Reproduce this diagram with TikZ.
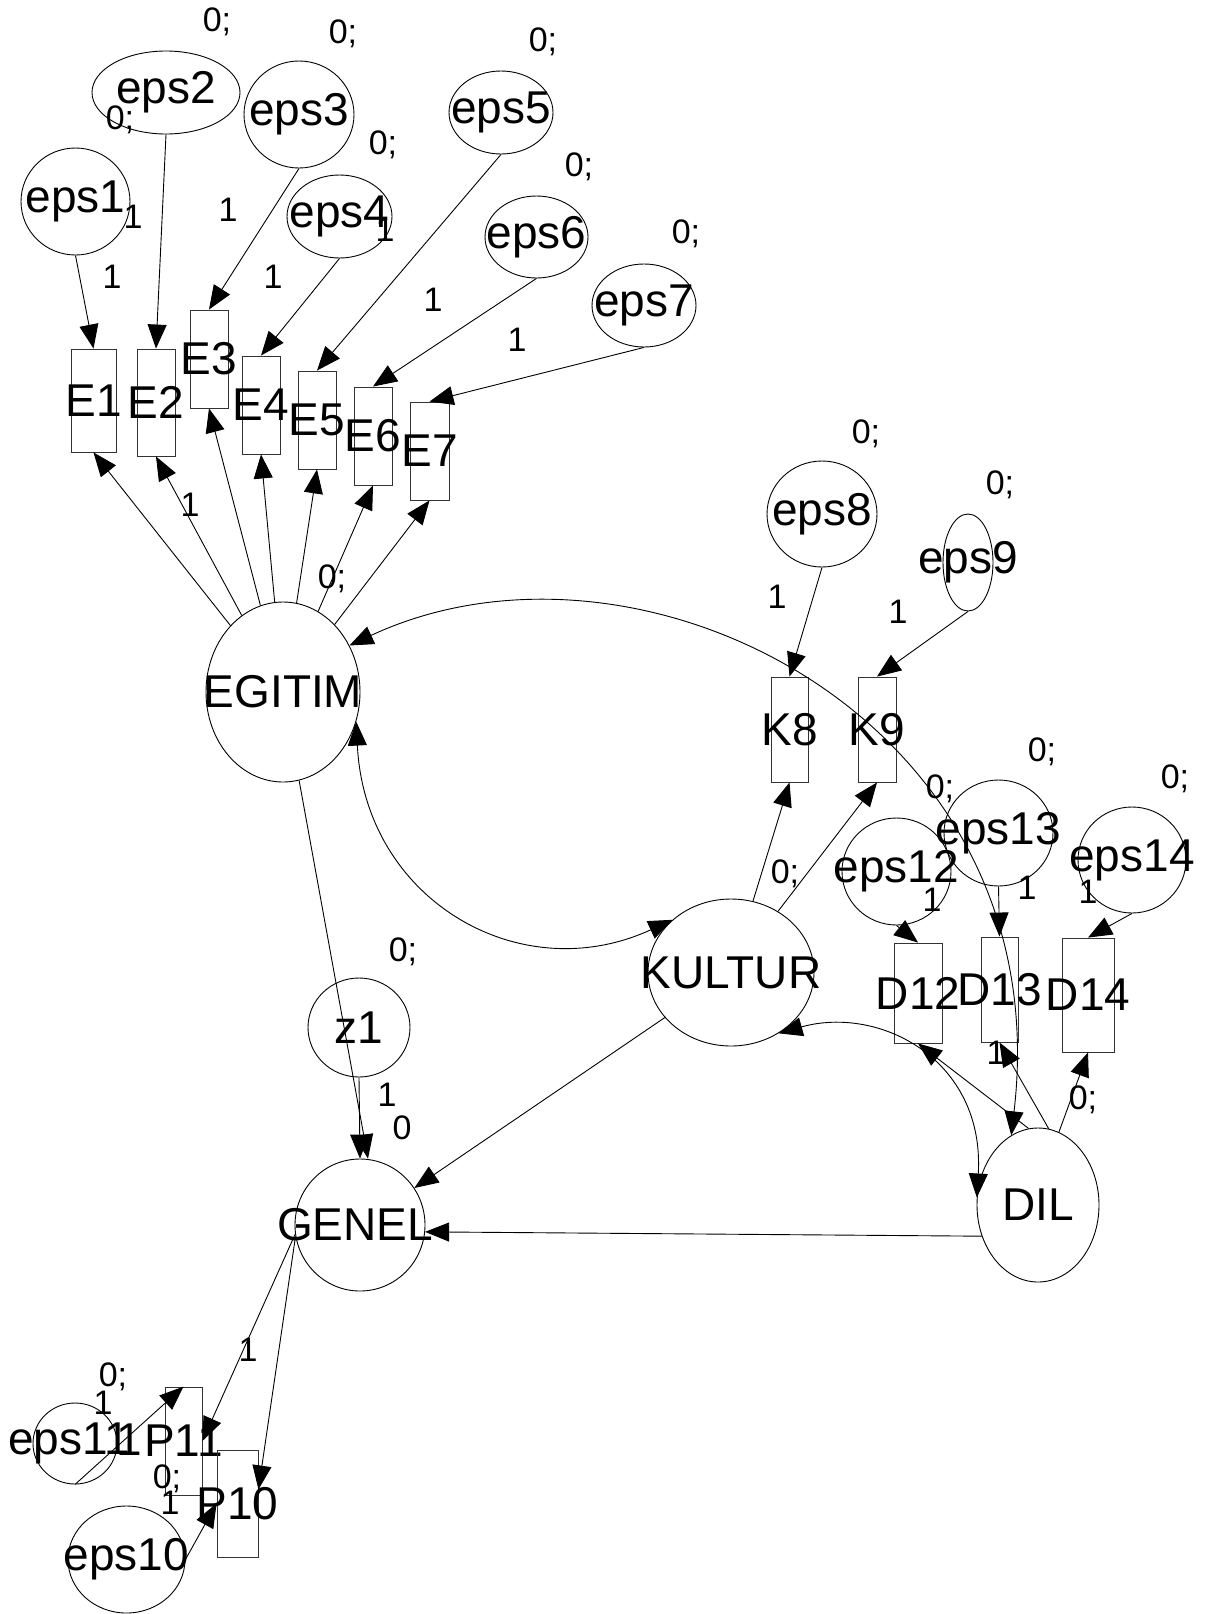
\documentclass[tikz,border=0pt]{standalone}
\usepackage{fontspec}
\setmainfont{Liberation Sans}
\usetikzlibrary{shapes.geometric}
\usetikzlibrary{arrows.meta}

\newcommand{\nm}[1]{\makebox[0pt]{#1}}
\tikzset{
  sz/.style 2 args={minimum width=#1pt, minimum height=#2pt},
  lat/.style={draw, ellipse, inner sep=0pt, line width=.9pt, font=\fontsize{46}{46}\selectfont},
  obs/.style={draw=black!80, rectangle, inner sep=0pt, line width=.9pt, font=\fontsize{46}{46}\selectfont},
  path/.style={line width=.9pt, -{Triangle[length=24pt,width=19pt]}},
  cov/.style={line width=.9pt, {Triangle[length=24pt,width=19pt]}-{Triangle[length=24pt,width=19pt]}},
  est/.style={inner sep=0pt, text depth=0pt, font=\fontsize{34}{34}\selectfont},
}

\begin{document}
\begin{tikzpicture}[x=1pt, y=-1pt]
\useasboundingbox (0,0) rectangle (1216,1614);
\node[lat, sz={109}{107}] (eps1) at (75.5,201.5) {\nm{eps1}};
\node[lat, sz={148}{83}] (eps2) at (166,92.5) {\nm{eps2}};
\node[lat, sz={110}{107}] (eps3) at (299,114.5) {\nm{eps3}};
\node[lat, sz={105}{83}] (eps4) at (339.5,216.5) {\nm{eps4}};
\node[lat, sz={104}{83}] (eps5) at (501,112.5) {\nm{eps5}};
\node[lat, sz={103}{82}] (eps6) at (536.5,237) {\nm{eps6}};
\node[lat, sz={104}{83}] (eps7) at (644,305.5) {\nm{eps7}};
\node[lat, sz={110}{106}] (eps8) at (822,514) {\nm{eps8}};
\node[lat, sz={50}{97}] (eps9) at (968,562.5) {\nm{eps9}};
\node[lat, sz={109}{107}] (eps12) at (896.5,871.5) {\nm{eps12}};
\node[lat, sz={109}{106}] (eps13) at (998.5,833) {\nm{eps13}};
\node[lat, sz={108}{106}] (eps14) at (1132,860) {\nm{eps14}};
\node[lat, sz={117}{107}] (eps10) at (126.5,1559.5) {\nm{eps10}};
\node[lat, sz={84}{81}] (eps11) at (75,1443.5) {\nm{\hspace*{-12pt}eps11}};
\node[lat, sz={102}{99}] (z1) at (359,1027.5) {\nm{z1}};
\node[lat, sz={154}{180}] (EGITIM) at (283,692) {\nm{EGITIM}};
\node[lat, sz={166}{147}] (KULTUR) at (731,972.5) {\nm{KULTUR}};
\node[lat, sz={130}{132}] (GENEL) at (360,1225) {\nm{\hspace*{-10pt}GENEL}};
\node[lat, sz={122}{154}] (DIL) at (1038,1205) {\nm{DIL}};

\node[obs, sz={45}{103}] (E1) at (93.5,400.5) {\nm{E1}};
\node[obs, sz={38}{107}] (E2) at (156,402.5) {\nm{E2}};
\node[obs, sz={38}{98}] (E3) at (209,359) {\nm{E3}};
\node[obs, sz={38}{98}] (E4) at (261,405) {\nm{E4}};
\node[obs, sz={38}{98}] (E5) at (317,420) {\nm{E5}};
\node[obs, sz={38}{98}] (E6) at (373,436) {\nm{E6}};
\node[obs, sz={39}{98}] (E7) at (429.5,451) {\nm{E7}};
\node[obs, sz={37}{105}] (K8) at (789.5,729.5) {\nm{K8}};
\node[obs, sz={38}{105}] (K9) at (877,729.5) {\nm{K9}};
\node[obs, sz={48}{100}] (D12) at (918,993) {\nm{D12}};
\node[obs, sz={37}{105}] (D13) at (999.5,989.5) {\nm{D13}};
\node[obs, sz={52}{114}] (D14) at (1088,995) {\nm{D14}};
\node[obs, sz={37}{108}] (P11) at (183.5,1441) {\nm{P11}};
\node[obs, sz={41}{107}] (P10) at (237.5,1503.5) {\nm{P10}};
\node[inner sep=0pt, font=\fontsize{46}{46}\selectfont] (big1) at (129,1440) {1};

\foreach \i in {1,...,7} {
 \draw[path] (eps\i.south) -- (E\i.north);
 \draw[path] (EGITIM) -- (E\i.south);
}
\draw[path] (eps8.south) -- (K8.north);
\draw[path] (eps9.south) -- (K9.north);
\draw[path] (KULTUR) -- (K8.south);
\draw[path] (KULTUR) -- (K9.south);
\foreach \i in {12,13,14}
 \draw[path] (eps\i.south) -- (D\i.north);
\draw[path] (DIL.97) -- (D12.south);
\draw[path] (DIL.82) -- (D13.south);
\draw[path] (DIL.74) -- (D14.south);
\draw[path] (eps11.south) -- (P11.north);
\draw[path] (eps10.east) -- (P10.west);
\draw[path] (GENEL.188) -- (P11.east);
\draw[path] (GENEL.190) -- ([yshift=14pt]P10.east);
\draw[path] (EGITIM) -- ([xshift=8pt]GENEL.north);
\draw[path] (z1.south) -- (GENEL.north);
\draw[path] (KULTUR) -- (GENEL);
\draw[path] (DIL.209) -- (GENEL.-6);
\draw[cov] (EGITIM.-22) .. controls (365,900) and (520,990) .. (KULTUR.138);
\draw[cov] (EGITIM.35) .. controls (640,510) and (1060,720) .. (DIL.111);
\draw[cov] (KULTUR.-52) .. controls (880,1005) and (985,1060) .. (DIL.173);

\foreach \x/\y [count=\i] in {217/20, 343/32, 543/40, 120/118, 383/143, 579/165, 686/232, 866/432, 1000/483, 332/577, 1042/750, 1175/777, 940/787, 785/872, 403/950, 1083/1098, 113/1375, 167/1477}
 \node[est] (m\i) at (\x,\y) {0;};
\foreach \x/\y [count=\i] in {133/217, 228/210, 385/230, 112/277, 273/277, 433/300, 517/340, 190/505, 777/597, 898/612, 1027/888, 932/900, 1088/892, 996/1053, 387/1095, 248/1350, 103/1403, 170/1503}
 \node[est] (w\i) at (\x,\y) {1};
\node[est] (c1) at (402,1128) {0};
\end{tikzpicture}
\end{document}
